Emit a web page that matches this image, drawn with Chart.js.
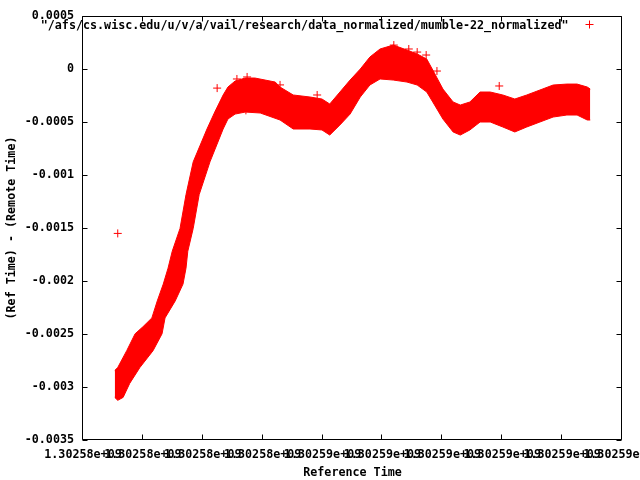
<!DOCTYPE html>
<html>
<head>
<meta charset="utf-8">
<script src="https://cdn.jsdelivr.net/npm/chart.js@4.4.1/dist/chart.umd.min.js"></script>
<style>
html, body { margin: 0; padding: 0; background: #fff; }
</style>
</head>
<body>
<canvas id="grafico" width="640" height="480"></canvas>
<script>
// nome da serie (legenda)
const serieNome = '"/afs/cs.wisc.edu/u/v/a/vail/research/data_normalized/mumble-22_normalized"';

// eixo x em segundos, eixo y em segundos (diferenca)
const xMin = 1302581000;
const xMax = 1302590000;
const xPasso = 1000;
const yMin = -0.0035;
const yMax = 0.0005;
const yPasso = 0.0005;

// borda superior da nuvem de pontos
const tempoSup = [1302581530, 1302581580, 1302581730, 1302581870, 1302582000, 1302582150, 1302582240, 1302582340,
  1302582420, 1302582490, 1302582620, 1302582720, 1302582840, 1302583070, 1302583200, 1302583340, 1302583420,
  1302583540, 1302583710, 1302583870, 1302584040, 1302584210, 1302584290, 1302584510, 1302584790, 1302584990,
  1302585120, 1302585290, 1302585460, 1302585630, 1302585790, 1302585960, 1302586180, 1302586410, 1302586580,
  1302586740, 1302586840, 1302587010, 1302587180, 1302587300, 1302587460, 1302587630, 1302587800, 1302588010,
  1302588210, 1302588410, 1302588630, 1302588850, 1302589080, 1302589250, 1302589420, 1302589470];
const difSup = [-0.002844, -0.002816, -0.002657, -0.002498, -0.002432, -0.002348, -0.002188, -0.002029,
  -0.001879, -0.001719, -0.001504, -0.001185, -0.000876, -0.000566, -0.000406, -0.000245, -0.00017,
  -0.000113, -0.000085, -0.000085, -0.000104, -0.000123, -0.00017, -0.000245, -0.000264, -0.000283,
  -0.00033, -0.000217, -0.000104, 0, 0.000113, 0.000189, 0.000226, 0.000179, 0.000142,
  0.000094, -0.000009, -0.000189, -0.000311, -0.00034, -0.000311, -0.000217, -0.000217, -0.000245,
  -0.000283, -0.000245, -0.000198, -0.000151, -0.000142, -0.000142, -0.00017, -0.000189];

// borda inferior da nuvem de pontos
const tempoInf = [1302581530, 1302581580, 1302581670, 1302581780, 1302581950, 1302582170, 1302582320, 1302582370,
  1302582540, 1302582670, 1302582720, 1302582750, 1302582840, 1302582940, 1302583120, 1302583340, 1302583420,
  1302583540, 1302583710, 1302583960, 1302584290, 1302584510, 1302584790, 1302584990, 1302585120, 1302585290,
  1302585460, 1302585630, 1302585790, 1302585960, 1302586180, 1302586410, 1302586580, 1302586740, 1302586840,
  1302587010, 1302587180, 1302587300, 1302587460, 1302587630, 1302587800, 1302588010, 1302588210, 1302588410,
  1302588630, 1302588850, 1302589080, 1302589250, 1302589420, 1302589470];
const difInf = [-0.003098, -0.003126, -0.003098, -0.002966, -0.002816, -0.002657, -0.002498, -0.002348,
  -0.002188, -0.002029, -0.001879, -0.001719, -0.001504, -0.001185, -0.000876, -0.000566, -0.000472,
  -0.000425, -0.000406, -0.000415, -0.000481, -0.000566, -0.000566, -0.000575, -0.000623, -0.000528,
  -0.000425, -0.000264, -0.000151, -0.000094, -0.000104, -0.000123, -0.000151, -0.000217, -0.000311,
  -0.000472, -0.000594, -0.000623, -0.000575, -0.0005, -0.0005, -0.000547, -0.000594, -0.000547,
  -0.0005, -0.000453, -0.000434, -0.000434, -0.000481, -0.000481];

// pontos isolados fora da faixa
const tempoOut = [1302581580, 1302583240, 1302583570, 1302583740, 1302583720, 1302584290, 1302584910,
  1302587950, 1302586190, 1302586440, 1302586580, 1302586730, 1302586910];
const difOut = [-0.001551, -0.00018, -0.000094, -0.000075, -0.00039, -0.00015, -0.000245,
  -0.00016, 0.000226, 0.000189, 0.00016, 0.000132, -0.000019];

const vermelho = '#ff0000';
const fonte = '"DejaVu Sans Mono", "Liberation Mono", monospace';

function pares(xs, ys) {
  return xs.map((x, i) => ({ x, y: ys[i] }));
}

// formato do gnuplot: 1.30258e+09
function formatoX(v) {
  const m = Math.round(v / 1e4) / 1e5;
  return m.toFixed(5) + 'e+09';
}

// moldura com marcas internas e legenda no canto
const moldura = {
  id: 'moldura',
  afterDraw(chart) {
    const { ctx, chartArea: a, scales } = chart;
    const L = Math.round(a.left) - 0.5, R = Math.round(a.right) - 0.5;
    const T = Math.round(a.top) + 0.5, B = Math.round(a.bottom) - 0.5;
    const tam = 5;
    ctx.save();
    ctx.strokeStyle = '#000';
    ctx.lineWidth = 1;
    ctx.beginPath();
    ctx.rect(L, T, R - L, B - T);
    scales.x.ticks.forEach(t => {
      const px = Math.round(scales.x.getPixelForValue(t.value)) - 0.5;
      ctx.moveTo(px, B); ctx.lineTo(px, B - tam);
      ctx.moveTo(px, T); ctx.lineTo(px, T + tam);
    });
    scales.y.ticks.forEach(t => {
      const py = Math.round(scales.y.getPixelForValue(t.value)) + 0.5;
      ctx.moveTo(L, py); ctx.lineTo(L + tam, py);
      ctx.moveTo(R, py); ctx.lineTo(R - tam, py);
    });
    ctx.stroke();

    // legenda
    const rotulo = chart.data.datasets[0].label;
    ctx.font = 'bold 11.7px ' + fonte;
    ctx.fillStyle = '#000';
    ctx.textAlign = 'right';
    ctx.textBaseline = 'middle';
    ctx.fillText(rotulo, R - 53, T + 9.5);
    const cx = R - 32, cy = T + 8;
    ctx.strokeStyle = vermelho;
    ctx.beginPath();
    ctx.moveTo(cx - 4, cy); ctx.lineTo(cx + 4, cy);
    ctx.moveTo(cx, cy - 4); ctx.lineTo(cx, cy + 4);
    ctx.stroke();
    ctx.restore();
  }
};

Chart.defaults.font.family = fonte;
Chart.defaults.font.size = 11.7;
Chart.defaults.font.weight = 'bold';
Chart.defaults.color = '#000';

new Chart(document.getElementById('grafico'), {
  type: 'scatter',
  data: {
    datasets: [
      {
        label: serieNome,
        type: 'line',
        data: pares(tempoSup, difSup),
        borderColor: vermelho,
        backgroundColor: vermelho,
        borderWidth: 1,
        pointRadius: 0,
        tension: 0,
        fill: '+1'
      },
      {
        label: 'inferior',
        type: 'line',
        data: pares(tempoInf, difInf),
        borderColor: vermelho,
        borderWidth: 1,
        pointRadius: 0,
        tension: 0,
        fill: false
      },
      {
        label: 'isolados',
        data: pares(tempoOut, difOut),
        borderColor: vermelho,
        backgroundColor: vermelho,
        borderWidth: 1,
        pointStyle: 'cross',
        pointRadius: 4,
        showLine: false
      }
    ]
  },
  options: {
    responsive: false,
    animation: false,
    devicePixelRatio: 1,
    layout: { padding: { left: 0, right: 18, top: 13, bottom: 0 } },
    plugins: {
      legend: { display: false },
      tooltip: { enabled: false }
    },
    scales: {
      x: {
        type: 'linear',
        min: xMin,
        max: xMax,
        grid: { display: false, drawTicks: false },
        border: { display: false },
        ticks: {
          stepSize: xPasso,
          autoSkip: false,
          maxRotation: 0,
          minRotation: 0,
          padding: 8,
          callback: v => formatoX(v)
        },
        title: {
          display: true,
          text: 'Reference Time',
          padding: { top: 0, bottom: 0 }
        },
        afterFit(s) {
          s.height = 40;
          s.paddingLeft = 0;
          s.paddingRight = 0;
        }
      },
      y: {
        min: yMin,
        max: yMax,
        grid: { display: false, drawTicks: false },
        border: { display: false },
        ticks: {
          stepSize: yPasso,
          padding: 9,
          callback: v => String(parseFloat(v.toFixed(4)))
        },
        title: {
          display: true,
          text: '(Ref Time) - (Remote Time)',
          padding: { top: 5, bottom: 0 }
        },
        afterFit(s) {
          s.width = 83;
        }
      }
    }
  },
  plugins: [moldura]
});
</script>
</body>
</html>
